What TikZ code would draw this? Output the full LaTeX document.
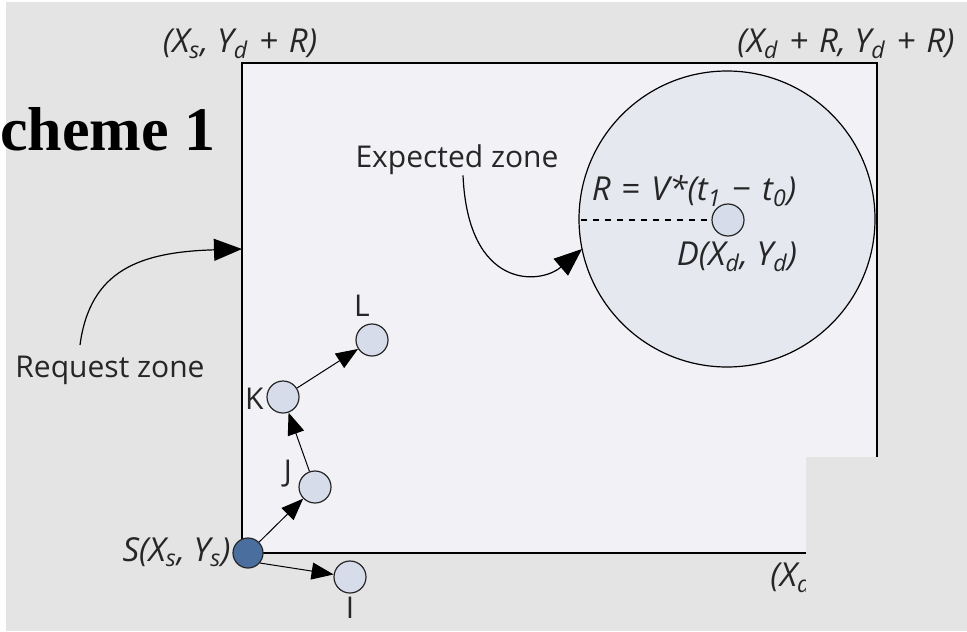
\documentclass[tikz,border=0pt]{standalone}
\usepackage{fontspec}
\setmainfont{Liberation Serif}
\setsansfont{Open Sans}
\usetikzlibrary{arrows.meta}

\definecolor{pagegray}{HTML}{E4E4E4}
\definecolor{zonefill}{HTML}{F2F2F6}
\definecolor{circfill}{HTML}{E6E8F0}
\definecolor{hostfill}{HTML}{D6DCE9}
\definecolor{srcfill}{HTML}{4A6E9E}

\newcommand{\opsp}[1]{\hspace{0.33em}{#1}\hspace{0.33em}}

\tikzset{
  host/.style={circle, draw=black!85, fill=hostfill, line width=0.6pt,
    minimum size=16pt, inner sep=0pt},
  hop/.style={-{Triangle[length=11pt,width=8.5pt]}, line width=0.5pt},
  pointer/.style={-{Triangle[length=14pt,width=11pt]}, line width=0.6pt},
  lbl/.style={font=\sffamily\fontsize{15}{17}\selectfont, inner sep=0pt,
    text=black!85},
  coordlbl/.style={lbl, font=\sffamily\itshape\fontsize{16.5}{18}\selectfont}
}

\begin{document}
\begin{tikzpicture}[x=0.5pt,y=-0.5pt]
    \useasboundingbox (0,0) rectangle (967,631);
    \fill[white] (0,0) rectangle (967,631);
    \fill[pagegray] (6,2) rectangle (967,631);

    % request zone and expected zone
    \draw[fill=zonefill, line width=1pt] (242,63) rectangle (877,553);
    \draw[fill=circfill, line width=0.6pt] (727,219) circle[radius=74pt];

    \node[font=\bfseries\fontsize{31}{31}\selectfont, anchor=base west,
      inner sep=0pt] (heading) at (0,150) {cheme 1};

    % corner coordinates
    \node[coordlbl] (cornertl) at (240,44) {(X\textsubscript{s}, Y\textsubscript{d}\opsp{+}R)};
    \node[coordlbl, anchor=west] (cornertr) at (737,44) {(X\textsubscript{d}\opsp{+}R, Y\textsubscript{d}\opsp{+}R)};
    \node[coordlbl, anchor=west] (cornerbr) at (770,578) {(X\textsubscript{d}\opsp{+}R, Y\textsubscript{s})};

    % hosts
    \node[host, fill=srcfill, minimum size=15pt] (src) at (248,553) {};
    \node[host] (nj) at (315,487) {};
    \node[host] (nk) at (283,397) {};
    \node[host] (nl) at (372,340) {};
    \node[host] (ni) at (350,577) {};
    \node[host] (dst) at (728,220) {};

    \node[coordlbl, anchor=east] (srclbl) at (231,552) {S(X\textsubscript{s}, Y\textsubscript{s})};
    \node[lbl, anchor=east] (klbl) at (264,399) {K};
    \node[lbl] (jlbl) at (288,474) {J};
    \node[lbl] (llbl) at (362,306) {L};
    \node[lbl] (ilbl) at (350,608) {I};
    \node[coordlbl] (dstlbl) at (737,257) {D(X\textsubscript{d}, Y\textsubscript{d})};
    \node[coordlbl] (radius) at (694,191) {R\opsp{\upshape =}V*(t\textsubscript{1}\opsp{\upshape −}t\textsubscript{0})};

    \coordinate (rim) at (581,220);
    \draw[dashed, line width=0.6pt] (rim) -- (dst);

    % forwarding
    \draw[hop] (src) -- (nj);
    \draw[hop] (nj) -- (nk);
    \draw[hop] (nk) -- (nl);
    \draw[hop] (src.-40) -- (ni);

    % zone labels
    \node[lbl] (reqlbl) at (110,370) {Request zone};
    \node[lbl] (explbl) at (457,160) {Expected zone};
    \coordinate (reqhit) at (242,249);
    \coordinate (exphit) at (582,249);
    \draw[pointer] (80,345) .. controls (90,270) and (140,252) .. (reqhit);
    \draw[pointer] (explbl.south) ++(6,0) .. controls (468,290) and (540,285) .. (exphit);

    \fill[pagegray] (806,457) rectangle (967,631);
\end{tikzpicture}
\end{document}
